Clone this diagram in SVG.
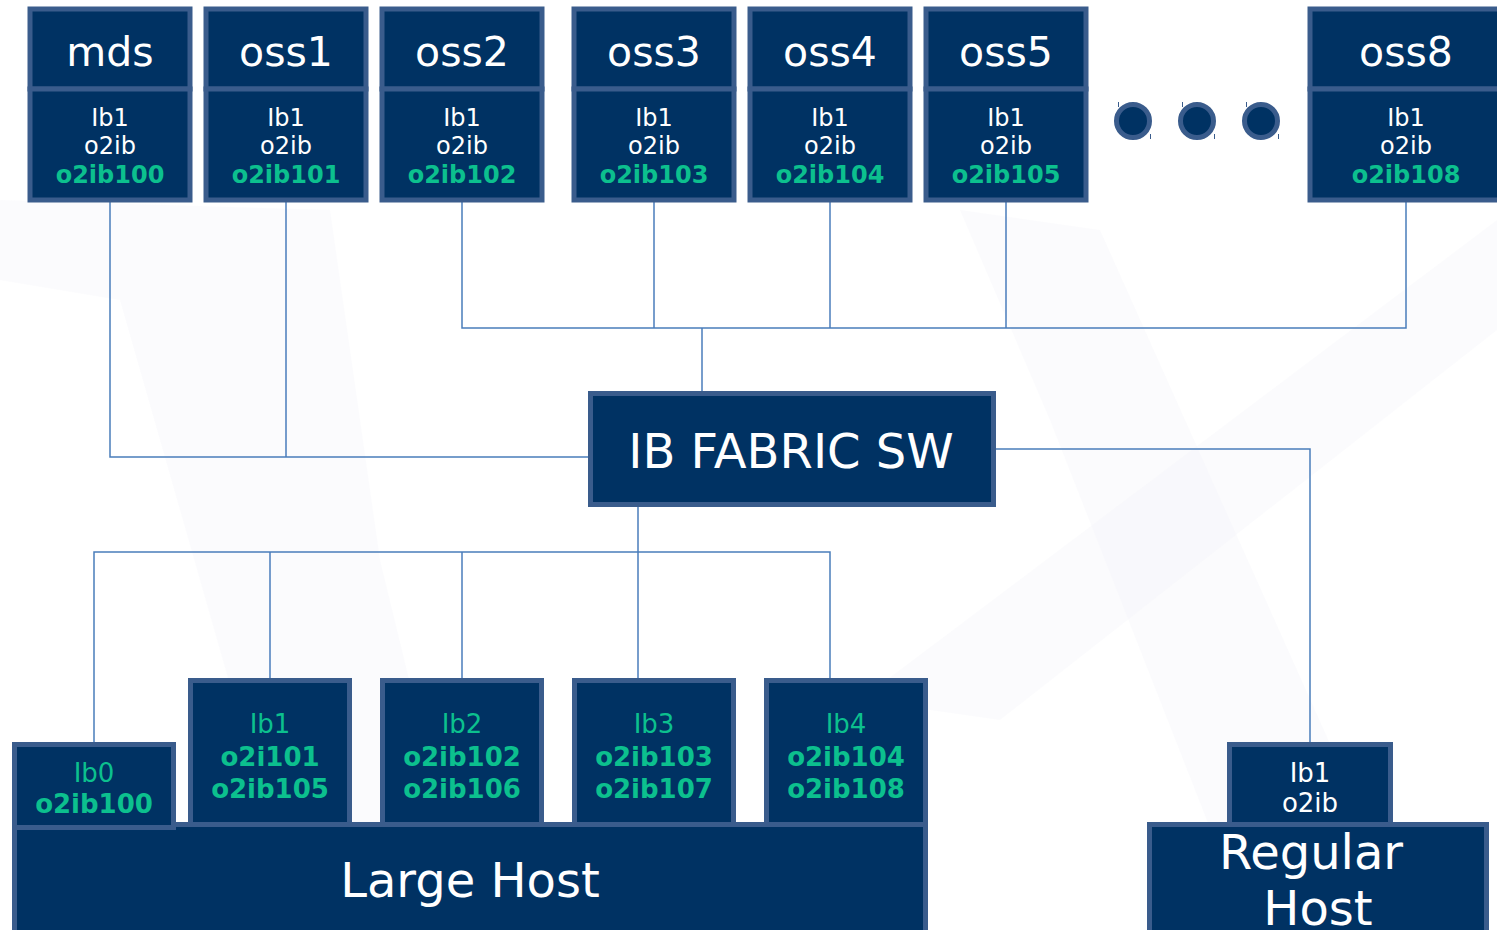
<svg xmlns="http://www.w3.org/2000/svg" width="1497" height="930" viewBox="0 0 1497 930">
<style>
.box{fill:#003263;stroke:#3a5c8c;stroke-width:5}
.hdr{font-family:"DejaVu Sans",sans-serif;font-size:41px;fill:#ffffff;text-anchor:middle}
.w{font-family:"DejaVu Sans",sans-serif;font-size:24px;fill:#ffffff;text-anchor:middle}
.g{font-family:"DejaVu Sans",sans-serif;font-size:24px;fill:#0cc08e;text-anchor:middle;font-weight:bold}
.gr{font-family:"DejaVu Sans",sans-serif;font-size:26px;fill:#0cc08e;text-anchor:middle}
.gb{font-family:"DejaVu Sans",sans-serif;font-size:26px;fill:#0cc08e;text-anchor:middle;font-weight:bold}
.w26{font-family:"DejaVu Sans",sans-serif;font-size:26px;fill:#ffffff;text-anchor:middle}
.big{font-family:"DejaVu Sans",sans-serif;font-size:48px;fill:#ffffff;text-anchor:middle}
.ln{fill:none;stroke:#4a7dbb;stroke-width:1.5}
.wm{fill:#f3f4f8;opacity:0.35}
</style>
<rect width="1497" height="930" fill="#ffffff"/>
<g id="watermark">
<polygon class="wm" points="0,200 330,210 380,560 470,930 300,930 120,300 0,280"/>
<polygon class="wm" points="960,210 1100,230 1400,900 1420,930 1250,930 1050,420"/>
<polygon class="wm" points="1497,220 1497,330 1000,720 860,700"/>
</g>
<g id="connectors">
<polyline class="ln" points="110,202 110,457 588,457"/>
<line class="ln" x1="286" y1="202" x2="286" y2="457"/>
<polyline class="ln" points="462,202 462,328 1406,328 1406,202"/>
<line class="ln" x1="654" y1="202" x2="654" y2="328"/>
<line class="ln" x1="830" y1="202" x2="830" y2="328"/>
<line class="ln" x1="1006" y1="202" x2="1006" y2="328"/>
<line class="ln" x1="702" y1="328" x2="702" y2="392"/>
<polyline class="ln" points="996,449 1310,449 1310,742"/>
<line class="ln" x1="638" y1="507" x2="638" y2="682"/>
<polyline class="ln" points="94,742 94,552 830,552 830,678"/>
<line class="ln" x1="270" y1="552" x2="270" y2="678"/>
<line class="ln" x1="462" y1="552" x2="462" y2="678"/>
</g>
<g id="mds">
<rect class="box" x="30" y="9" width="160" height="80"/>
<rect class="box" x="30" y="89" width="160" height="111"/>
<text class="hdr" x="110" y="66">mds</text>
<text class="w" x="110" y="126">Ib1</text>
<text class="w" x="110" y="154">o2ib</text>
<text class="g" x="110" y="183">o2ib100</text>
</g>
<g id="oss1">
<rect class="box" x="206" y="9" width="160" height="80"/>
<rect class="box" x="206" y="89" width="160" height="111"/>
<text class="hdr" x="286" y="66">oss1</text>
<text class="w" x="286" y="126">Ib1</text>
<text class="w" x="286" y="154">o2ib</text>
<text class="g" x="286" y="183">o2ib101</text>
</g>
<g id="oss2">
<rect class="box" x="382" y="9" width="160" height="80"/>
<rect class="box" x="382" y="89" width="160" height="111"/>
<text class="hdr" x="462" y="66">oss2</text>
<text class="w" x="462" y="126">Ib1</text>
<text class="w" x="462" y="154">o2ib</text>
<text class="g" x="462" y="183">o2ib102</text>
</g>
<g id="oss3">
<rect class="box" x="574" y="9" width="160" height="80"/>
<rect class="box" x="574" y="89" width="160" height="111"/>
<text class="hdr" x="654" y="66">oss3</text>
<text class="w" x="654" y="126">Ib1</text>
<text class="w" x="654" y="154">o2ib</text>
<text class="g" x="654" y="183">o2ib103</text>
</g>
<g id="oss4">
<rect class="box" x="750" y="9" width="160" height="80"/>
<rect class="box" x="750" y="89" width="160" height="111"/>
<text class="hdr" x="830" y="66">oss4</text>
<text class="w" x="830" y="126">Ib1</text>
<text class="w" x="830" y="154">o2ib</text>
<text class="g" x="830" y="183">o2ib104</text>
</g>
<g id="oss5">
<rect class="box" x="926" y="9" width="160" height="80"/>
<rect class="box" x="926" y="89" width="160" height="111"/>
<text class="hdr" x="1006" y="66">oss5</text>
<text class="w" x="1006" y="126">Ib1</text>
<text class="w" x="1006" y="154">o2ib</text>
<text class="g" x="1006" y="183">o2ib105</text>
</g>
<g id="oss8">
<rect class="box" x="1310" y="9" width="192" height="80"/>
<rect class="box" x="1310" y="89" width="192" height="111"/>
<text class="hdr" x="1406" y="66">oss8</text>
<text class="w" x="1406" y="126">Ib1</text>
<text class="w" x="1406" y="154">o2ib</text>
<text class="g" x="1406" y="183">o2ib108</text>
</g>
<g id="dots">
<circle class="box" cx="1133" cy="121" r="16.5"/>
<circle class="box" cx="1197" cy="121" r="16.5"/>
<circle class="box" cx="1261" cy="121" r="16.5"/>
<g stroke="#3a5c8c" stroke-width="1">
<line x1="1118.5" y1="102" x2="1118.5" y2="107"/>
<line x1="1150.5" y1="134" x2="1150.5" y2="139"/>
<line x1="1182.5" y1="102" x2="1182.5" y2="107"/>
<line x1="1214.5" y1="134" x2="1214.5" y2="139"/>
<line x1="1246.5" y1="102" x2="1246.5" y2="107"/>
<line x1="1278.5" y1="134" x2="1278.5" y2="139"/>
</g>
</g>
<g id="ibswitch">
<rect class="box" x="590.5" y="393.5" width="403" height="111"/>
<text class="big" x="791" y="468">IB FABRIC SW</text>
</g>
<g id="largehost">
<rect class="box" x="14.5" y="824.5" width="911" height="110"/>
<text class="big" x="470" y="897">Large Host</text>
</g>
<g id="lb0">
<rect class="box" x="14.5" y="744.5" width="159" height="83"/>
<text class="gr" x="94" y="782">Ib0</text>
<text class="gb" x="94" y="813">o2ib100</text>
</g>
<g id="lb1">
<rect class="box" x="190.5" y="680.5" width="159" height="144"/>
<text class="gr" x="270" y="733">Ib1</text>
<text class="gb" x="270" y="766">o2i101</text>
<text class="gb" x="270" y="798">o2ib105</text>
</g>
<g id="lb2">
<rect class="box" x="382.5" y="680.5" width="159" height="144"/>
<text class="gr" x="462" y="733">Ib2</text>
<text class="gb" x="462" y="766">o2ib102</text>
<text class="gb" x="462" y="798">o2ib106</text>
</g>
<g id="lb3">
<rect class="box" x="574.5" y="680.5" width="159" height="144"/>
<text class="gr" x="654" y="733">Ib3</text>
<text class="gb" x="654" y="766">o2ib103</text>
<text class="gb" x="654" y="798">o2ib107</text>
</g>
<g id="lb4">
<rect class="box" x="766.5" y="680.5" width="159" height="144"/>
<text class="gr" x="846" y="733">Ib4</text>
<text class="gb" x="846" y="766">o2ib104</text>
<text class="gb" x="846" y="798">o2ib108</text>
</g>
<g id="regularhost">
<rect class="box" x="1149.5" y="824.5" width="337" height="110"/>
<text class="big" x="1311" y="869">Regular</text>
<text class="big" x="1318" y="925">Host</text>
</g>
<g id="rh_ib1">
<rect class="box" x="1229.5" y="744.5" width="161" height="80"/>
<text class="w26" x="1310" y="782">Ib1</text>
<text class="w26" x="1310" y="812">o2ib</text>
</g>
</svg>
